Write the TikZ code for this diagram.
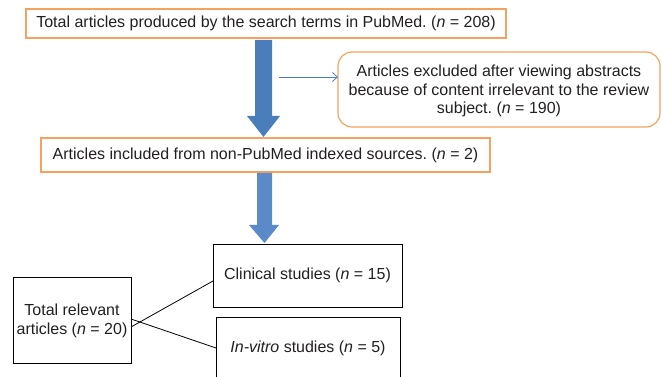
\documentclass[tikz,border=0pt]{standalone}
\usepackage{fontspec}
\setmainfont{Liberation Sans}
\usetikzlibrary{arrows.meta}
\definecolor{obord}{HTML}{F6A25E}
\definecolor{txt}{HTML}{231F20}
\definecolor{blueA}{HTML}{4A7EBB}
\definecolor{blueB}{HTML}{5A8BC8}
\frenchspacing
\begin{document}
\begin{tikzpicture}[x=1pt,y=-1pt,
  every node/.style={text=txt,font=\fontsize{16}{18.5}\selectfont},
  obox/.style={draw=obord,line width=1.2pt},
  kbox/.style={draw=black,line width=0.8pt}]
\useasboundingbox (0,0) rectangle (662,377);
\clip (0,0) rectangle (662,377);
% top box
\draw[obox] (26,9) rectangle (506,38);
\node[anchor=center] (t1) at (266,23.5) {Total articles produced by the search terms in PubMed. (\textit{n} = 208)};
% rounded box
\draw[obox,rounded corners=14pt] (338,52) rectangle (660,127);
\node[align=center] (ex) at (499,91) {Articles excluded after viewing abstracts\\because of content irrelevant to the review\\subject. (\textit{n} = 190)};
% big arrow 1
\fill[blueA] (255,40) -- (272,40) -- (272,116) -- (280,116) -- (263.5,137) -- (247,116) -- (255,116) -- cycle;
% thin arrow
\coordinate (ta) at (279,77);
\draw[blueA,line width=0.8pt,-{Straight Barb[length=5pt,width=9pt]}] (ta) -- (338,77);
% box 2
\draw[obox] (41,138) rectangle (490,172);
\node (t2) at (265.5,155) {Articles included from non-PubMed indexed sources. (\textit{n} = 2)};
% big arrow 2
\fill[blueB] (257,173) -- (272,173) -- (272,225) -- (279,225) -- (264.5,243) -- (249,225) -- (257,225) -- cycle;
% clinical
\draw[kbox] (213,244) rectangle (402,307);
\node (cl) at (307.5,275.5) {Clinical studies (\textit{n} = 15)};
\coordinate (clw) at (213,281);
% in vitro
\draw[kbox] (216,317) rectangle (400,390);
\node (iv) at (308,348) {\textit{In-vitro} studies (\textit{n} = 5)};
\coordinate (ivw) at (216,348);
% total
\draw[kbox] (13,277) rectangle (131,363);
\node[align=center] (tot) at (72,321) {Total relevant\\articles (\textit{n} = 20)};
\coordinate (ta1) at (131,327);
\coordinate (ta2) at (131,319);
\draw[black,line width=0.8pt] (ta1) -- (clw);
\draw[black,line width=0.8pt] (ta2) -- (ivw);
\end{tikzpicture}
\end{document}
